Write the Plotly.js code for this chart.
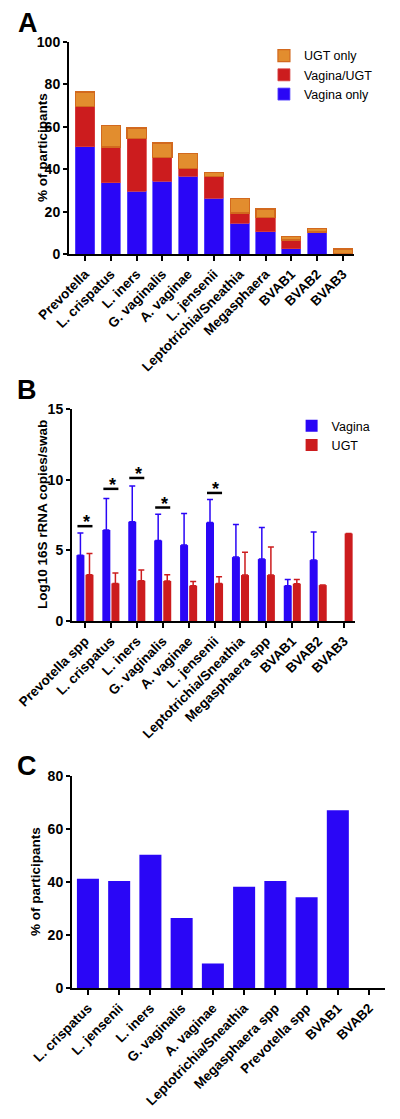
<!DOCTYPE html>
<html>
<head>
<meta charset="utf-8">
<script src="https://cdn.plot.ly/plotly-3.0.1.min.js"></script>
<style>
  html, body { margin: 0; padding: 0; background: #fff; }
  #wrap { position: relative; width: 400px; height: 1119px; overflow: hidden; background: #fff; }
  .panel { position: absolute; left: 0; width: 400px; }
</style>
</head>
<body>
<div id="wrap">
  <div id="pa" class="panel" style="top:0px;height:395px;"></div>
  <div id="pb" class="panel" style="top:375px;height:395px;"></div>
  <div id="pc" class="panel" style="top:750px;height:369px;"></div>
</div>
<script>
// ---------- Panel A data ----------
const catsA = ['Prevotella','L. crispatus','L. iners','G. vaginalis','A. vaginae','L. jensenii','Leptotrichia/Sneathia','Megasphaera','BVAB1','BVAB2','BVAB3'];
const vaginaOnlyA = [50.5, 33.5, 29.6, 34.4, 36.6, 26.4, 14.6, 10.4, 2.4, 10.4, 0];
const vaginaUgtA  = [19.2, 17.0, 25.0, 11.2, 3.8, 10.0, 4.7, 6.9, 4.2, 0, 0];
const ugtOnlyA    = [6.7, 10.0, 4.8, 6.8, 7.1, 2.0, 7.0, 3.9, 1.6, 1.7, 2.4];

// ---------- Panel B data ----------
const catsB = ['Prevotella spp','L. crispatus','L. iners','G. vaginalis','A. vaginae','L. jensenii','Leptotrichia/Sneathia','Megasphaera spp','BVAB1','BVAB2','BVAB3'];
const vaginaMeanB = [4.66, 6.43, 7.02, 5.70, 5.37, 6.97, 4.52, 4.38, 2.50, 4.31, null];
const vaginaErrB  = [1.56, 2.23, 2.54, 1.86, 2.23, 1.62, 2.31, 2.24, 0.44, 1.98, null];
const ugtMeanB    = [3.27, 2.66, 2.85, 2.83, 2.50, 2.66, 3.25, 3.25, 2.64, 2.54, 6.19];
const ugtErrB     = [1.51, 0.73, 0.75, 0.44, 0.30, 0.47, 1.62, 1.98, 0.30, null, null];
const sigCatsB    = ['Prevotella spp','L. crispatus','L. iners','G. vaginalis','L. jensenii'];
const sigLevelsB  = [6.71, 9.35, 10.12, 8.03, 9.06];

// ---------- Panel C data ----------
const catsC = ['L. crispatus','L. jensenii','L. iners','G. vaginalis','A. vaginae','Leptotrichia/Sneathia','Megasphaera spp','Prevotella spp','BVAB1','BVAB2'];
const pctC  = [41.25, 40.4, 50.25, 26.4, 9.25, 38.25, 40.4, 34.25, 67.1, 0];

// ---------- styles ----------
const FONT = 'Arial, "Liberation Sans", Helvetica, sans-serif';
const BLUE = '#2A06F6';
const RED = '#CC1C1E';
const ORANGE = '#E28D2E';
const ORANGE_LINE = '#D2691E';
const CLEAR = 'rgba(0,0,0,0)';

function xAxis(range) {
  return {
    type: 'category', range: range, showgrid: false, zeroline: false,
    showline: true, linecolor: '#000', linewidth: 2,
    ticks: 'outside', ticklen: 5, tickwidth: 2, tickcolor: '#000',
    tickangle: -45, tickfont: {family: FONT, size: 13.5, color: '#000', weight: 700},
    automargin: false, fixedrange: true
  };
}
function yAxis(range, dtick) {
  return {
    range: range, dtick: dtick, showgrid: false, zeroline: false,
    showline: true, linecolor: '#000', linewidth: 2,
    ticks: 'outside', ticklen: 4, tickwidth: 2, tickcolor: '#000',
    tickfont: {family: FONT, size: 14, color: '#000', weight: 700},
    automargin: false, fixedrange: true
  };
}
function letter(t, x, y) {
  return {text: t, xref: 'paper', yref: 'paper', x: x, y: y, xanchor: 'center', yanchor: 'middle',
    showarrow: false, font: {family: FONT, size: 27, color: '#000', weight: 700}};
}
function ytitle(t, x) {
  return {text: t, xref: 'paper', yref: 'paper', x: x, y: 0.5, xanchor: 'center', yanchor: 'middle',
    textangle: -90, showarrow: false, font: {family: FONT, size: 13.5, color: '#000', weight: 700}};
}
const cfg = {staticPlot: true, displayModeBar: false};

// ---------- Panel A ----------
// plot area: x 69..354, y 42..254 (page px)
(function () {
  const tr = [
    {type: 'bar', name: 'Vagina only', x: catsA, y: vaginaOnlyA,
      marker: {color: BLUE, line: {color: '#5a48ff', width: 0.8}}},
    {type: 'bar', name: 'Vagina/UGT', x: catsA, y: vaginaUgtA,
      marker: {color: RED, line: {color: '#d84040', width: 0.8}}},
    {type: 'bar', name: 'UGT only', x: catsA, y: ugtOnlyA,
      marker: {color: ORANGE, line: {color: ORANGE_LINE, width: 1.2}}}
  ];
  const layout = {
    width: 400, height: 395,
    margin: {l: 69, r: 46, t: 42, b: 141, autoexpand: false},
    barmode: 'stack', bargap: 0.26,
    paper_bgcolor: CLEAR, plot_bgcolor: CLEAR,
    xaxis: xAxis([-0.62, 10.43]),
    yaxis: yAxis([0, 100], 20),
    showlegend: true,
    legend: {x: 0.684, y: 1.005, xanchor: 'left', yanchor: 'top', traceorder: 'reversed',
      bgcolor: CLEAR, font: {family: FONT, size: 12.5, color: '#000'}, tracegroupgap: 0},
    annotations: [letter('A', (27.5 - 69) / 285, (254 - 23) / 212), ytitle('% of participants', (42 - 69) / 285)]
  };
  Plotly.newPlot('pa', tr, layout, cfg);
})();

// ---------- Panel B ----------
// plot area: x 72..355, y 408.7..621 page px (div top 375)
(function () {
  const tr = [
    {type: 'bar', name: 'Vagina', x: catsB, y: vaginaMeanB,
      marker: {color: BLUE},
      error_y: {type: 'data', symmetric: false, array: vaginaErrB, arrayminus: vaginaErrB.map(function(){return 0;}),
        color: BLUE, thickness: 1.5, width: 3}},
    {type: 'bar', name: 'UGT', x: catsB, y: ugtMeanB,
      marker: {color: RED},
      error_y: {type: 'data', symmetric: false, array: ugtErrB, arrayminus: ugtErrB.map(function(){return 0;}),
        color: RED, thickness: 1.5, width: 3}}
  ];
  const shapes = sigCatsB.map(function (c, k) {
    const i = catsB.indexOf(c);
    return {type: 'line', xref: 'x', yref: 'y', x0: i - 0.29, x1: i + 0.29, y0: sigLevelsB[k], y1: sigLevelsB[k],
      line: {color: '#000', width: 2.5}};
  });
  const stars = sigCatsB.map(function (c, k) {
    return {text: '*', xref: 'x', yref: 'y', x: catsB.indexOf(c) + 0.05, y: sigLevelsB[k], xanchor: 'center', yanchor: 'bottom',
      yshift: -8, showarrow: false, font: {family: FONT, size: 18, color: '#000', weight: 700}};
  });
  const layout = {
    width: 400, height: 395,
    margin: {l: 72, r: 45, t: 34, b: 149, autoexpand: false},
    barmode: 'group', bargap: 0.3, bargroupgap: 0.12,
    paper_bgcolor: CLEAR, plot_bgcolor: CLEAR,
    xaxis: xAxis([-0.5, 10.42]),
    yaxis: yAxis([0, 15], 5),
    showlegend: true,
    legend: {x: 0.776, y: 0.99, xanchor: 'left', yanchor: 'top',
      bgcolor: CLEAR, font: {family: FONT, size: 12.5, color: '#000'}},
    shapes: shapes,
    annotations: [letter('B', (26.5 - 72) / 283, (621 - 390) / 212.3), ytitle('Log10 16S rRNA copies/swab', (42 - 72) / 283)].concat(stars)
  };
  Plotly.newPlot('pb', tr, layout, cfg);
})();

// ---------- Panel C ----------
// plot area: x 72..385, y 775.7..987.7 page px (div top 750)
(function () {
  const tr = [
    {type: 'bar', name: '% of participants', x: catsC, y: pctC, marker: {color: BLUE}, showlegend: false}
  ];
  const layout = {
    width: 400, height: 369,
    margin: {l: 72, r: 15, t: 25.7, b: 131.3, autoexpand: false},
    bargap: 0.295,
    paper_bgcolor: CLEAR, plot_bgcolor: CLEAR,
    xaxis: xAxis([-0.51, 9.51]),
    yaxis: yAxis([0, 80], 20),
    showlegend: false,
    annotations: [letter('C', (26.5 - 72) / 313, (987.7 - 766) / 212), ytitle('% of participants', (35 - 72) / 313)]
  };
  Plotly.newPlot('pc', tr, layout, cfg);
})();
</script>
</body>
</html>
